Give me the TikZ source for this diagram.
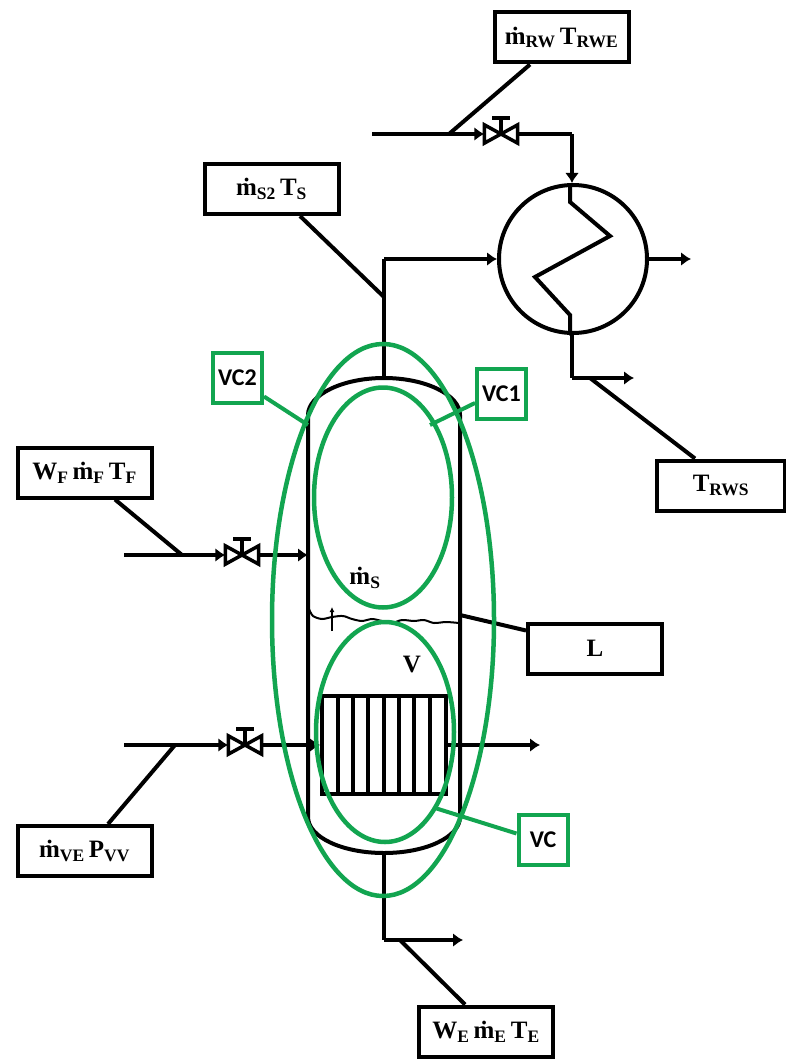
\documentclass[tikz,border=0pt]{standalone}
\usepackage{fontspec}
\setmainfont{Liberation Serif}
\newfontfamily\vcfont{Carlito}
\usetikzlibrary{arrows.meta}
\definecolor{vcgreen}{HTML}{12A550}
\newcommand{\md}{\.{m}}
\tikzset{
  tagbox/.style={draw=black, line width=4pt, fill=white, minimum width=134pt, minimum height=50pt, inner sep=0pt, align=center, font=\fontsize{25}{27}\selectfont\bfseries},
  vcbox/.style={draw=vcgreen, line width=4pt, fill=white, minimum width=49pt, minimum height=50pt, inner sep=0pt, font=\fontsize{24}{26}\selectfont\bfseries\vcfont},
  pipe/.style={line width=4pt, draw=black},
  flow/.style={pipe, -{Latex[length=10pt,width=14pt]}},
  tagline/.style={line width=4pt, draw=black},
  vcline/.style={line width=4pt, draw=vcgreen},
  vcring/.style={line width=4.5pt, draw=vcgreen},
  valvept/.style={minimum width=33pt, minimum height=18pt, inner sep=0pt},
}
\begin{document}
\begin{tikzpicture}[x=1pt, y=-1pt]
\useasboundingbox (0,0) rectangle (786,1059);
% pipe junctions
\coordinate (rwin) at (372,134);
\coordinate (rwjoin) at (449,134);
\coordinate (rwturn) at (572,134);
\coordinate (feedin) at (124,555);
\coordinate (feedjoin) at (182,555);
\coordinate (feedwall) at (308,555);
\coordinate (vapin) at (124,745);
\coordinate (vapjoin) at (175,745);
\coordinate (vapout) at (540,745);
\coordinate (steamtop) at (384,378);
\coordinate (steamjoin) at (384,297);
\coordinate (steamturn) at (384,259);
\coordinate (rwbend) at (572,378);
\coordinate (rwjoinb) at (590,378);
\coordinate (rwend) at (634,378);
\coordinate (coolout) at (691,259);
\coordinate (botm) at (384,853);
\coordinate (botbend) at (384,940);
\coordinate (botjoin) at (400,940);
\coordinate (botend) at (463,940);
\coordinate (levelwall) at (460,615);
\coordinate (vcatwo) at (308,425);
\coordinate (vcaone) at (430,425);
\coordinate (vcazero) at (435,808);
% exchanger and tube bundle
\node[draw=black, line width=4pt, circle, minimum size=148pt, inner sep=0pt] (cond) at (573,259) {};
\node[draw=black, line width=4pt, minimum width=124pt, minimum height=98pt, inner sep=0pt] (bundle) at (384,745) {};
\foreach \x in {338,353,368,384,399,414,430}
  \draw[pipe] (\x,696) -- (\x,794);
\draw[pipe] (570,185) -- (570,202) -- (610,236) -- (535,277) -- (570,315) -- (570,333);
% vessel
\draw[pipe] (308,415) .. controls (308,395) and (342,378) .. (384,378) .. controls (426,378) and (460,395) .. (460,415) -- (460,817) .. controls (460,837) and (426,853) .. (384,853) .. controls (342,853) and (308,837) .. (308,817) -- cycle;
% level
\draw[line width=2pt] plot[smooth] coordinates {(309,609) (313,616) (322,619) (332,617) (343,616) (352,619) (362,621) (372,619) (382,621) (392,623) (402,620) (414,621) (424,620) (434,623) (446,622) (459,623)};
\draw[line width=1.5pt, -{Latex[length=5pt,width=5pt]}] (332,631) -- (332,607);
% valves
\foreach \n/\x/\y in {rwvalve/501/134, feedvalve/242/555, vapvalve/245/745} {
  \node[valvept] (\n) at (\x,\y) {};
  \draw[line width=3.5pt, line join=miter] (\n.south west) -- (\n.north west) -- (\n.south east) -- (\n.north east) -- cycle;
  \draw[line width=3.5pt] (\n.center) -- (\x,\y-16);
  \draw[line width=3.5pt] (\x-9,\y-16) -- (\x+9,\y-16);
}
% boxes
\node[tagbox] (rwbox) at (561.5,37.5) {\md\textsubscript{RW}\,T\textsubscript{RWE}};
\node[tagbox] (stbox) at (271.5,189) {\md\textsubscript{S2}\,T\textsubscript{S}};
\node[tagbox] (fdbox) at (84.5,472.5) {W\textsubscript{F}\,\md\textsubscript{F}\,T\textsubscript{F}};
\node[tagbox, minimum width=128pt] (rsbox) at (721,485.5) {T\textsubscript{RWS}};
\node[tagbox] (lvbox) at (595,648.5) {L};
\node[tagbox] (vebox) at (84.5,851) {\md\textsubscript{VE}\,P\textsubscript{VV}};
\node[tagbox] (webox) at (486,1031.5) {W\textsubscript{E}\,\md\textsubscript{E}\,T\textsubscript{E}};
\node[vcbox] (vctwo) at (237.5,377.5) {VC2};
\node[vcbox] (vcone) at (501.5,394) {VC1};
\node[vcbox] (vczero) at (543,839.5) {VC};
\node[font=\fontsize{25}{27}\selectfont\bfseries] (ms) at (365,578) {\md\textsubscript{S}};
\node[font=\fontsize{25}{27}\selectfont\bfseries] (vol) at (412,664) {V};
% pipes
\draw[flow] (rwin) -- (rwvalve.west);
\draw[pipe] (rwvalve.east) -- (rwturn);
\draw[flow] (rwturn) -- (rwturn |- cond.north);
\draw[pipe] (570,333) -- (rwbend |- cond.south);
\draw[pipe] (rwbend |- cond.south) -- (rwbend);
\draw[flow] (rwbend) -- (rwend);
\draw[flow] (cond.east) -- (coolout);
\draw[pipe] (steamtop) -- (steamturn);
\draw[flow] (steamturn) -- (cond.west);
\draw[flow] (feedin) -- (feedvalve.west);
\draw[flow] (feedvalve.east) -- (feedwall);
\draw[flow] (vapin) -- (vapvalve.west);
\draw[flow] (vapvalve.east) -- (bundle.west);
\draw[flow] (bundle.east) -- (vapout);
\draw[pipe] (botm) -- (botbend);
\draw[flow] (botbend) -- (botend);
% tag lines
\draw[tagline] ([xshift=-31.5pt]rwbox.south) -- (rwjoin);
\draw[tagline] ([xshift=28.5pt]stbox.south) -- (steamjoin);
\draw[tagline] ([xshift=30.5pt]fdbox.south) -- (feedjoin);
\draw[tagline] ([xshift=23.5pt]vebox.north) -- (vapjoin);
\draw[tagline] (rwjoinb) -- ([xshift=-26pt]rsbox.north);
\draw[tagline] (botjoin) -- ([xshift=-21pt]webox.north);
\draw[tagline] (levelwall) -- ([yshift=-9pt]lvbox.north west);
% control volumes
\draw[vcring] (383,620) ellipse (111pt and 276pt);
\draw[vcring] (383,497.5) ellipse (69pt and 110pt);
\draw[vcring] (385,732) ellipse (69pt and 110pt);
\draw[vcline] ([yshift=8pt]vctwo.south east) -- (vcatwo);
\draw[vcline] ([yshift=-9pt]vcone.west) -- (vcaone);
\draw[vcline] ([yshift=6pt]vczero.west) -- (vcazero);
\end{tikzpicture}
\end{document}
